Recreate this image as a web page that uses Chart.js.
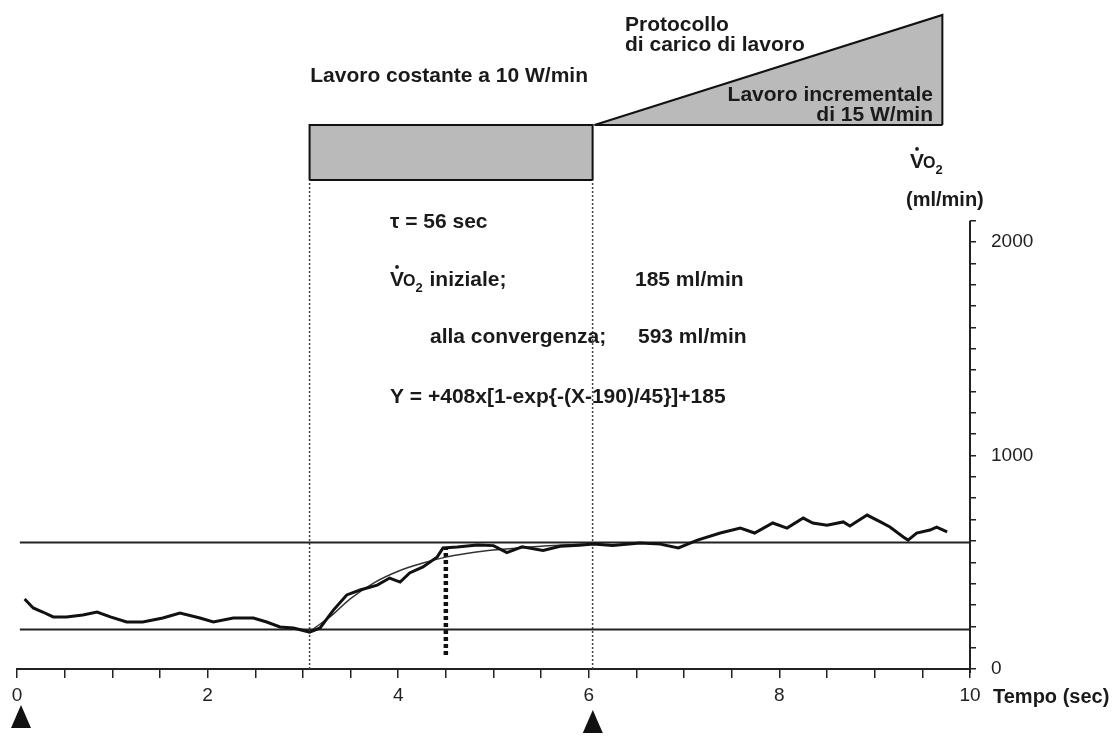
<!DOCTYPE html>
<html>
<head>
<meta charset="utf-8">
<script src="https://cdn.jsdelivr.net/npm/chart.js@4.4.1/dist/chart.umd.min.js"></script>
<style>
  html, body { margin: 0; padding: 0; background: #fff; }
  #wrap { width: 1119px; height: 741px; }
</style>
</head>
<body>
<div id="wrap"><canvas id="vo2Chart" width="1119" height="741"></canvas></div>
<script>
// VO2 trace (time in axis units, VO2 in ml/min)
const traceTime = [0.08, 0.17, 0.27, 0.38, 0.52, 0.69, 0.84, 0.98, 1.15, 1.32, 1.53, 1.71, 1.92, 2.06, 2.27, 2.48, 2.62, 2.76, 2.90, 3.07,
                   3.18, 3.32, 3.46, 3.60, 3.78, 3.91, 4.02, 4.12, 4.26, 4.41, 4.47, 4.62, 4.83, 5.00, 5.14, 5.30, 5.52, 5.70, 5.90, 6.05,
                   6.25, 6.54, 6.75, 6.94, 7.14, 7.38, 7.59, 7.74, 7.93, 8.08, 8.25, 8.35, 8.50, 8.67, 8.74, 8.92, 9.06, 9.16, 9.30, 9.35,
                   9.44, 9.58, 9.65, 9.76];
const traceVO2 = [328, 286, 267, 244, 244, 253, 267, 244, 220, 220, 239, 262, 239, 220, 239, 239, 220, 197, 192, 173,
                  192, 276, 347, 370, 393, 426, 407, 450, 478, 525, 567, 571, 581, 578, 545, 572, 555, 575, 580, 585,
                  578, 590, 585, 567, 604, 637, 660, 637, 684, 660, 707, 684, 674, 689, 670, 721, 689, 665, 618, 604,
                  637, 651, 665, 642];

// fitted mono-exponential curve
const fitTime = [3.10, 3.30, 3.50, 3.75, 4.00, 4.25, 4.50, 4.75, 5.00, 5.50, 6.00];
const fitVO2 = [185, 250, 330, 405, 458, 495, 524, 543, 557, 575, 585];

const baselineVO2 = 185;
const steadyVO2 = 593;
const lineSpan = [0.03, 10];
const tauMark = { t: 4.5, from: 65, to: 570 };

// workload protocol (arbitrary load units)
const constantTime = [3.07, 3.07, 6.04, 6.04];
const constantLoad = [0, 10, 10, 0];
const rampTime = [6.06, 9.71, 9.71];
const rampLoad = [10, 30, 10];
const phaseMarks = [3.07, 6.04];
const startMarks = [0, 6];

const xLabelTicks = [0, 2, 4, 6, 8, 10];
const yLabelTicks = [0, 1000, 2000];
const yAxisTop = 2100;

const FONT = "'Liberation Sans', Arial, Helvetica, sans-serif";
const pts = (xs, ys) => xs.map((v, i) => ({ x: v, y: ys[i] }));

function drawVO2(ctx, x, y, size) {
  ctx.textAlign = 'left';
  ctx.textBaseline = 'middle';
  ctx.font = `bold ${size}px ${FONT}`;
  const vw = ctx.measureText('V').width;
  ctx.fillText('V', x, y);
  ctx.beginPath();
  ctx.arc(x + vw / 2, y - size * 0.62, size * 0.09, 0, Math.PI * 2);
  ctx.fill();
  ctx.font = `bold ${Math.round(size * 0.78)}px ${FONT}`;
  ctx.fillText('O', x + vw - 1, y + size * 0.08);
  const ow = ctx.measureText('O').width;
  ctx.font = `bold ${Math.round(size * 0.62)}px ${FONT}`;
  ctx.fillText('2', x + vw + ow - 1, y + size * 0.38);
  return vw + ow + ctx.measureText('2').width;
}

const annotate = {
  id: 'annotate',
  afterDraw(chart) {
    const { ctx } = chart;
    const xs = chart.scales.x, ys = chart.scales.y;
    ctx.save();
    // VO2 axis line
    ctx.strokeStyle = '#222';
    ctx.lineWidth = 2;
    ctx.beginPath();
    ctx.moveTo(xs.getPixelForValue(10), ys.getPixelForValue(0) + 4);
    ctx.lineTo(xs.getPixelForValue(10), ys.getPixelForValue(yAxisTop));
    ctx.stroke();

    // start arrowheads
    ctx.fillStyle = '#111';
    startMarks.forEach((t, i) => {
      const px = xs.getPixelForValue(t) + 4;
      const top = i === 0 ? 705 : 710;
      ctx.beginPath();
      ctx.moveTo(px, top);
      ctx.lineTo(px + 10, top + 23);
      ctx.lineTo(px - 10, top + 23);
      ctx.closePath();
      ctx.fill();
    });

    ctx.fillStyle = '#1a1a1a';
    ctx.textBaseline = 'middle';
    ctx.font = `bold 21px ${FONT}`;
    ctx.textAlign = 'right';
    ctx.fillText('Lavoro costante a 10 W/min', 588, 76);
    ctx.fillText('Lavoro incrementale', 933, 95);
    ctx.fillText('di 15 W/min', 933, 115);
    ctx.textAlign = 'left';
    ctx.fillText('Protocollo', 625, 25);
    ctx.fillText('di carico di lavoro', 625, 45);

    ctx.fillText('\u03C4 = 56 sec', 390, 222);
    const w = drawVO2(ctx, 390, 280, 21);
    ctx.font = `bold 21px ${FONT}`;
    ctx.fillText(' iniziale;', 390 + w, 280);
    ctx.fillText('185 ml/min', 635, 280);
    ctx.fillText('alla convergenza;', 430, 337);
    ctx.fillText('593 ml/min', 638, 337);
    ctx.fillText('Y = +408x[1-exp{-(X-190)/45}]+185', 390, 397);

    drawVO2(ctx, 910, 162, 21);
    ctx.font = `bold 20px ${FONT}`;
    ctx.fillText('(ml/min)', 906, 200);
    ctx.fillText('Tempo (sec)', 993, 697);
    ctx.restore();
  }
};

const lineBase = { pointRadius: 0, tension: 0, fill: false };
const edge = (xsArr, ysArr) => ({ ...lineBase, yAxisID: 'y2', data: pts(xsArr, ysArr), borderColor: '#111', borderWidth: 2 });

new Chart(document.getElementById('vo2Chart'), {
  type: 'line',
  data: {
    datasets: [
      { ...lineBase, data: pts(traceTime, traceVO2), borderColor: '#111', borderWidth: 3 },
      { ...lineBase, data: pts(fitTime, fitVO2), borderColor: '#333', borderWidth: 1.5, tension: 0.4 },
      { ...lineBase, data: pts(lineSpan, [baselineVO2, baselineVO2]), borderColor: '#222', borderWidth: 2 },
      { ...lineBase, data: pts(lineSpan, [steadyVO2, steadyVO2]), borderColor: '#222', borderWidth: 2 },
      { ...lineBase, data: pts([tauMark.t, tauMark.t], [tauMark.from, tauMark.to]), borderColor: '#111', borderWidth: 4.5, borderDash: [4, 3] },
      ...phaseMarks.map(t => ({ ...lineBase, yAxisID: 'y2', data: pts([t, t], [-88.9, 0]), borderColor: '#444', borderWidth: 1.5, borderDash: [2, 2] })),
      edge([constantTime[0], constantTime[3]], [0, 0]),
      edge([rampTime[0], rampTime[2]], [10, 10]),
      { ...edge(constantTime, constantLoad), fill: { value: 0 }, backgroundColor: '#bababa' },
      { ...edge(rampTime, rampLoad), fill: { value: 10 }, backgroundColor: '#bababa' }
    ]
  },
  options: {
    responsive: false,
    animation: false,
    layout: { padding: { left: 17, top: 10, right: 0, bottom: 0 } },
    plugins: { legend: { display: false }, tooltip: { enabled: false } },
    scales: {
      x: {
        type: 'linear', min: 0, max: 10,
        afterFit: s => { s.height = 72; s.paddingLeft = 0; s.paddingRight = 0; },
        grid: { drawOnChartArea: false, drawTicks: true, tickLength: 9, color: '#222', lineWidth: 1.5 },
        border: { color: '#222', width: 2 },
        ticks: {
          stepSize: 0.5, autoSkip: false, maxRotation: 0, padding: 6,
          color: '#222', font: { family: FONT, size: 19 },
          callback: v => xLabelTicks.includes(v) ? String(v) : ''
        }
      },
      y: {
        type: 'linear', position: 'right', min: 0, max: 3087,
        afterFit: s => { s.width = 149; s.paddingTop = 0; s.paddingBottom = 0; },
        afterBuildTicks: s => { s.ticks = s.ticks.filter(t => t.value <= yAxisTop); },
        grid: { drawOnChartArea: false, drawTicks: true, tickLength: 6, color: '#222', lineWidth: 1.5 },
        border: { display: false },
        ticks: {
          stepSize: 100, autoSkip: false, padding: 15,
          color: '#222', font: { family: FONT, size: 19 },
          callback: v => yLabelTicks.includes(v) ? String(v) : ''
        }
      },
      y2: { type: 'linear', display: false, min: -88.9, max: 30.9 }
    }
  },
  plugins: [annotate]
});
</script>
</body>
</html>
